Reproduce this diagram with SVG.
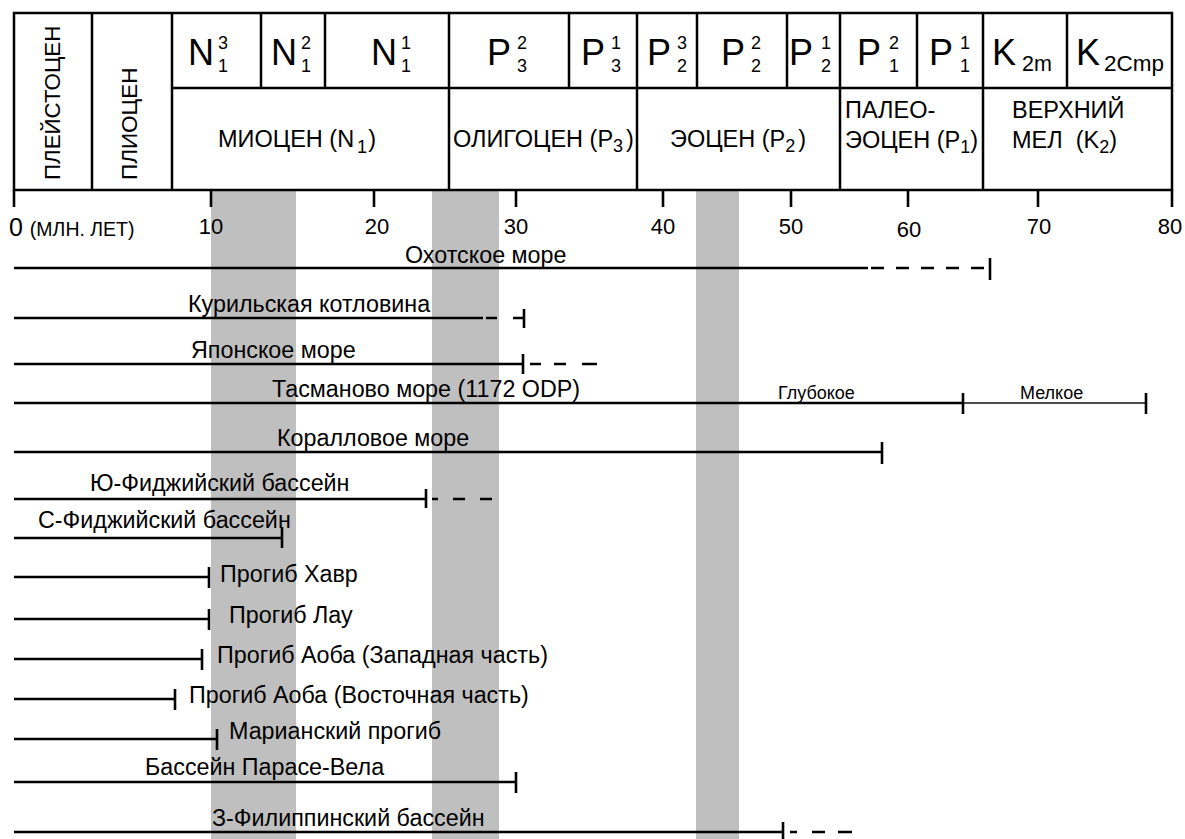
<svg xmlns="http://www.w3.org/2000/svg" width="1185" height="839" viewBox="0 0 1185 839">
<style>
.bg{fill:#ffffff}
.band{fill:#bfbfbf}
.ln{stroke:#000;stroke-width:2.5;fill:none}
.thin{stroke:#111;stroke-width:1.3;fill:none}
.tk{stroke:#000;stroke-width:2.6;fill:none}
.t{font-family:"Liberation Sans",Arial,sans-serif;fill:#000}
.big{font-size:36px}
.idx{font-size:18px;text-anchor:middle}
.lab{font-size:23.5px}
.bl{font-size:23.3px}
.ax{font-size:22px;text-anchor:middle}
.sm{font-size:18px}
</style>
<rect class="bg" x="0" y="0" width="1185" height="839"/>
<g id="bands">
<rect class="band" x="211" y="191" width="85" height="648"/>
<rect class="band" x="432" y="191" width="67" height="648"/>
<rect class="band" x="696" y="191" width="43" height="648"/>
</g>
<g id="header">
<rect class="ln" x="14" y="13" width="1158" height="177"/>
<path class="ln" d="M92 13V190M172 13V190M449 13V190M637 13V190M840 13V190M983 13V190M261 13V88M325 13V88M569 13V88M697 13V88M787 13V88M917 13V88M1067 13V88M172 88H1172"/>
<text class="t" font-size="22.3" transform="translate(60 180) rotate(-90)">ПЛЕЙСТОЦЕН</text>
<text class="t" font-size="22.5" transform="translate(137 180) rotate(-90)">ПЛИОЦЕН</text>
<g id="n13"><text class="t big" x="188" y="65">N</text><text class="t idx" x="223" y="49">3</text><text class="t idx" x="223" y="72">1</text></g>
<g id="n12"><text class="t big" x="271" y="65">N</text><text class="t idx" x="306" y="49">2</text><text class="t idx" x="306" y="72">1</text></g>
<g id="n11"><text class="t big" x="371" y="65">N</text><text class="t idx" x="406" y="49">1</text><text class="t idx" x="406" y="72">1</text></g>
<g id="p32"><text class="t big" x="487" y="65">P</text><text class="t idx" x="522" y="49">2</text><text class="t idx" x="522" y="72">3</text></g>
<g id="p31"><text class="t big" x="581" y="65">P</text><text class="t idx" x="616" y="49">1</text><text class="t idx" x="616" y="72">3</text></g>
<g id="p23"><text class="t big" x="647" y="65">P</text><text class="t idx" x="682" y="49">3</text><text class="t idx" x="682" y="72">2</text></g>
<g id="p22"><text class="t big" x="721" y="65">P</text><text class="t idx" x="756" y="49">2</text><text class="t idx" x="756" y="72">2</text></g>
<g id="p21"><text class="t big" x="789" y="65">P</text><text class="t idx" x="826" y="49">1</text><text class="t idx" x="826" y="72">2</text></g>
<g id="p12"><text class="t big" x="857" y="65">P</text><text class="t idx" x="894" y="49">2</text><text class="t idx" x="894" y="72">1</text></g>
<g id="p11"><text class="t big" x="929" y="65">P</text><text class="t idx" x="965" y="49">1</text><text class="t idx" x="965" y="72">1</text></g>
<g id="k2m"><text class="t big" x="992" y="65">K</text><text class="t" x="1022" y="71" font-size="21.5">2m</text></g>
<g id="k2cmp"><text class="t big" x="1076" y="65">K</text><text class="t" x="1104" y="71" font-size="22.5">2Cmp</text></g>
<text class="t lab" x="218" y="147">МИОЦЕН (N<tspan dx="3" dy="6" font-size="18">1</tspan><tspan dx="1" dy="-6">)</tspan></text>
<text class="t lab" x="453" y="147">ОЛИГОЦЕН (P<tspan dy="5" font-size="18">3</tspan><tspan dx="3" dy="-5">)</tspan></text>
<text class="t lab" x="670" y="147">ЭОЦЕН (P<tspan dy="5" font-size="18">2</tspan><tspan dx="3" dy="-5">)</tspan></text>
<text class="t lab" x="845" y="118">ПАЛЕО-</text>
<text class="t lab" x="845" y="148">ЭОЦЕН (P<tspan dy="5" font-size="18">1</tspan><tspan dy="-5">)</tspan></text>
<text class="t lab" x="1012" y="118">ВЕРХНИЙ</text>
<text class="t lab" x="1012" y="148" xml:space="preserve">МЕЛ  (K<tspan dy="5" font-size="18">2</tspan><tspan dy="-5">)</tspan></text>
</g>
<g id="axis">
<path class="tk" d="M14 190V207M211 190V207M374 190V207M516 190V207M663 190V207M791 190V207M908 190V207M1038 190V207M1172 190V207"/>
<text class="t" x="9" y="236" font-size="25">0 <tspan font-size="19.5">(МЛН. ЛЕТ)</tspan></text>
<text class="t ax" x="211" y="234">10</text>
<text class="t ax" x="377" y="234">20</text>
<text class="t ax" x="516" y="234">30</text>
<text class="t ax" x="663" y="234">40</text>
<text class="t ax" x="791" y="234">50</text>
<text class="t ax" x="909" y="237">60</text>
<text class="t ax" x="1039" y="234">70</text>
<text class="t ax" x="1170" y="234">80</text>
</g>
<g id="connectors">
<g id="okhotsk">
<path class="ln" d="M14 268H868"/><path class="ln" d="M871 268H990" stroke-dasharray="13 12"/><path class="tk" d="M990 258V280"/>
<text class="t bl" x="405" y="263">Охотское море</text>
</g>
<g id="kuril">
<path class="ln" d="M14 318H483M486 318H497M513 318H524"/><path class="tk" d="M524 309V328"/>
<text class="t bl" x="188" y="312">Курильская котловина</text>
</g>
<g id="japan">
<path class="ln" d="M14 364H523M530 364H541M554 364H566M582 364H597"/><path class="tk" d="M523 354V374"/>
<text class="t bl" x="191" y="358">Японское море</text>
</g>
<g id="tasman">
<path class="ln" d="M14 403H963"/><path class="thin" d="M963 403H1146"/><path class="tk" d="M963 393V414M1146 393V414"/>
<text class="t bl" x="272" y="397">Тасманово море (1172 ODP)</text>
<text class="t sm" x="778" y="399">Глубокое</text>
<text class="t sm" x="1020" y="399">Мелкое</text>
</g>
<g id="coral">
<path class="ln" d="M14 452H882"/><path class="tk" d="M882 442V464"/>
<text class="t bl" x="277" y="446">Коралловое море</text>
</g>
<g id="sfiji">
<path class="ln" d="M14 499H426M432 499H438M453 499H465M480 499H492"/><path class="tk" d="M426 489V508"/>
<text class="t bl" x="90" y="491">Ю-Фиджийский бассейн</text>
</g>
<g id="nfiji">
<path class="ln" d="M14 538H282"/><path class="tk" d="M282 527V548"/>
<text class="t bl" x="38" y="528">С-Фиджийский бассейн</text>
</g>
<g id="havre">
<path class="ln" d="M14 577H209"/><path class="tk" d="M209 567V588"/>
<text class="t bl" x="220" y="582">Прогиб Хавр</text>
</g>
<g id="lau">
<path class="ln" d="M14 619H209"/><path class="tk" d="M209 609V630"/>
<text class="t bl" x="229" y="623">Прогиб Лау</text>
</g>
<g id="aobaw">
<path class="ln" d="M14 659H202"/><path class="tk" d="M202 649V670"/>
<text class="t bl" x="217" y="663">Прогиб Аоба (Западная часть)</text>
</g>
<g id="aobae">
<path class="ln" d="M14 699H175"/><path class="tk" d="M175 689V710"/>
<text class="t bl" x="189" y="703">Прогиб Аоба (Восточная часть)</text>
</g>
<g id="mariana">
<path class="ln" d="M14 739H217"/><path class="tk" d="M217 729V750"/>
<text class="t bl" x="229" y="739">Марианский прогиб</text>
</g>
<g id="parece">
<path class="ln" d="M14 782H516"/><path class="tk" d="M516 772V793"/>
<text class="t bl" x="145" y="775">Бассейн Парасе-Вела</text>
</g>
<g id="wphil">
<path class="ln" d="M14 832H783M790 832H797M812 832H825M838 832H852"/><path class="tk" d="M783 822V842"/>
<text class="t bl" x="212" y="826">З-Филиппинский бассейн</text>
</g>
</g>
</svg>
